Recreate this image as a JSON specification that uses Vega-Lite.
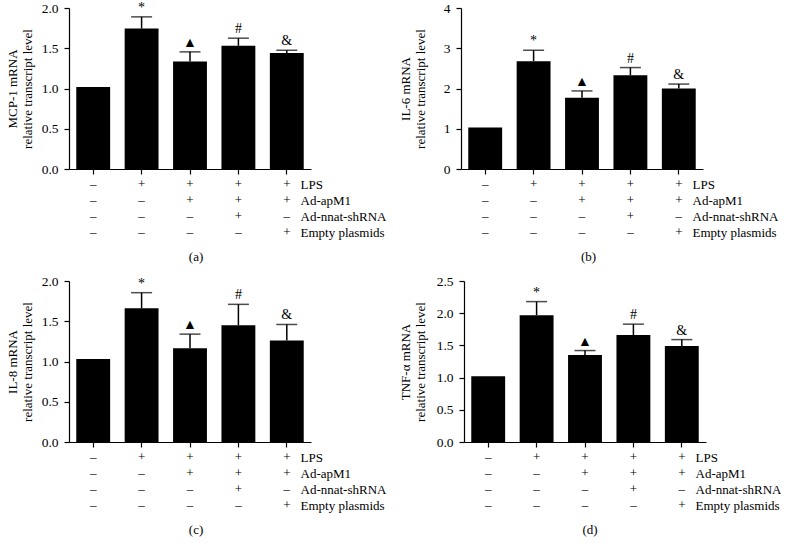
{
  "$schema": "https://vega.github.io/schema/vega-lite/v6.json",
  "padding": {"left": 6, "top": 0, "right": 0, "bottom": 0},
  "background": "white",
  "config": {
    "font": "Liberation Serif",
    "view": {"stroke": null},
    "axis": {"labelFont": "Liberation Serif", "titleFont": "Liberation Serif", "domainColor": "black", "tickColor": "black", "labelColor": "black", "titleColor": "black", "grid": false, "titleFontWeight": "normal", "domainWidth": 1.2, "tickWidth": 1.2},
    "title": {"font": "Liberation Serif", "fontWeight": "normal", "color": "black", "fontSize": 13}
  },
  "datasets": {
    "bars": [
      {"panel": "a", "g": "1", "value": 1.02, "upper": null, "sig": ""},
      {"panel": "a", "g": "2", "value": 1.745, "upper": 1.89, "sig": "*"},
      {"panel": "a", "g": "3", "value": 1.335, "upper": 1.455, "sig": "▲"},
      {"panel": "a", "g": "4", "value": 1.53, "upper": 1.625, "sig": "#"},
      {"panel": "a", "g": "5", "value": 1.44, "upper": 1.475, "sig": "&"},
      {"panel": "b", "g": "1", "value": 1.03, "upper": null, "sig": ""},
      {"panel": "b", "g": "2", "value": 2.68, "upper": 2.95, "sig": "*"},
      {"panel": "b", "g": "3", "value": 1.77, "upper": 1.94, "sig": "▲"},
      {"panel": "b", "g": "4", "value": 2.33, "upper": 2.52, "sig": "#"},
      {"panel": "b", "g": "5", "value": 2.0, "upper": 2.11, "sig": "&"},
      {"panel": "c", "g": "1", "value": 1.03, "upper": null, "sig": ""},
      {"panel": "c", "g": "2", "value": 1.66, "upper": 1.855, "sig": "*"},
      {"panel": "c", "g": "3", "value": 1.165, "upper": 1.34, "sig": "▲"},
      {"panel": "c", "g": "4", "value": 1.45, "upper": 1.71, "sig": "#"},
      {"panel": "c", "g": "5", "value": 1.26, "upper": 1.46, "sig": "&"},
      {"panel": "d", "g": "1", "value": 1.02, "upper": null, "sig": ""},
      {"panel": "d", "g": "2", "value": 1.97, "upper": 2.18, "sig": "*"},
      {"panel": "d", "g": "3", "value": 1.35, "upper": 1.42, "sig": "▲"},
      {"panel": "d", "g": "4", "value": 1.66, "upper": 1.83, "sig": "#"},
      {"panel": "d", "g": "5", "value": 1.49, "upper": 1.59, "sig": "&"}
    ],
    "table": [
      {"factor": "LPS", "g": "1", "sign": "–"},
      {"factor": "LPS", "g": "2", "sign": "+"},
      {"factor": "LPS", "g": "3", "sign": "+"},
      {"factor": "LPS", "g": "4", "sign": "+"},
      {"factor": "LPS", "g": "5", "sign": "+"},
      {"factor": "Ad-apM1", "g": "1", "sign": "–"},
      {"factor": "Ad-apM1", "g": "2", "sign": "–"},
      {"factor": "Ad-apM1", "g": "3", "sign": "+"},
      {"factor": "Ad-apM1", "g": "4", "sign": "+"},
      {"factor": "Ad-apM1", "g": "5", "sign": "+"},
      {"factor": "Ad-nnat-shRNA", "g": "1", "sign": "–"},
      {"factor": "Ad-nnat-shRNA", "g": "2", "sign": "–"},
      {"factor": "Ad-nnat-shRNA", "g": "3", "sign": "–"},
      {"factor": "Ad-nnat-shRNA", "g": "4", "sign": "+"},
      {"factor": "Ad-nnat-shRNA", "g": "5", "sign": "–"},
      {"factor": "Empty plasmids", "g": "1", "sign": "–"},
      {"factor": "Empty plasmids", "g": "2", "sign": "–"},
      {"factor": "Empty plasmids", "g": "3", "sign": "–"},
      {"factor": "Empty plasmids", "g": "4", "sign": "–"},
      {"factor": "Empty plasmids", "g": "5", "sign": "+"}
    ]
  },
  "spacing": 10,
  "vconcat": [
    {
      "spacing": 13,
      "hconcat": [
        {
          "title": {"text": "(a)", "orient": "bottom", "anchor": "middle", "frame": "bounds", "offset": 12},
          "spacing": 2,
          "vconcat": [
            {
              "width": 242, "height": 161,
              "data": {"name": "bars"},
              "transform": [{"filter": "datum.panel == 'a'"}],
              "encoding": {"x": {"field": "g", "type": "nominal", "scale": {"paddingInner": 0.3, "paddingOuter": 0.15}, "axis": {"title": null, "labels": false, "tickSize": 5}}},
              "layer": [
                {"mark": {"type": "bar", "color": "black"}, "encoding": {"y": {"field": "value", "type": "quantitative", "scale": {"domain": [0, 2], "nice": false}, "axis": {"title": ["MCP-1 mRNA", "relative transcript level"], "values": [0, 0.5, 1, 1.5, 2], "tickCount": 5, "format": ".1f", "labelOverlap": false, "tickSize": 5, "labelPadding": 6, "titlePadding": 7, "labelFontSize": 13.5, "titleFontSize": 13}}}},
                {"mark": {"type": "rule", "color": "black", "strokeWidth": 1.5}, "encoding": {"y": {"field": "value", "type": "quantitative"}, "y2": {"field": "upper"}}},
                {"mark": {"type": "tick", "color": "black", "orient": "horizontal", "size": 21, "thickness": 1.5}, "encoding": {"y": {"field": "upper", "type": "quantitative"}}},
                {"mark": {"type": "text", "baseline": "bottom", "dy": -2, "fontSize": 14, "color": "black"}, "encoding": {"y": {"field": "upper", "type": "quantitative"}, "text": {"field": "sig"}}}
              ]
            },
            {
              "width": 242, "height": 48,
              "data": {"name": "table"},
              "mark": {"type": "text", "fontSize": 13, "color": "black"},
              "encoding": {
                "x": {"field": "g", "type": "nominal", "scale": {"type": "point", "padding": 0.5}, "axis": null},
                "y": {"field": "factor", "type": "nominal", "sort": ["LPS", "Ad-apM1", "Ad-nnat-shRNA", "Empty plasmids"], "scale": {"type": "point", "padding": 0}, "axis": {"orient": "right", "title": null, "domain": false, "ticks": false, "labelPadding": -11, "labelFontSize": 13, "labelAlign": "left"}},
                "text": {"field": "sign"}
              }
            }
          ]
        },
        {
          "title": {"text": "(b)", "orient": "bottom", "anchor": "middle", "frame": "bounds", "offset": 12},
          "spacing": 2,
          "vconcat": [
            {
              "width": 242, "height": 161,
              "data": {"name": "bars"},
              "transform": [{"filter": "datum.panel == 'b'"}],
              "encoding": {"x": {"field": "g", "type": "nominal", "scale": {"paddingInner": 0.3, "paddingOuter": 0.15}, "axis": {"title": null, "labels": false, "tickSize": 5}}},
              "layer": [
                {"mark": {"type": "bar", "color": "black"}, "encoding": {"y": {"field": "value", "type": "quantitative", "scale": {"domain": [0, 4], "nice": false}, "axis": {"title": ["IL-6 mRNA", "relative transcript level"], "values": [0, 1, 2, 3, 4], "tickCount": 5, "format": "d", "labelOverlap": false, "tickSize": 5, "labelPadding": 6, "titlePadding": 16, "labelFontSize": 13.5, "titleFontSize": 13}}}},
                {"mark": {"type": "rule", "color": "black", "strokeWidth": 1.5}, "encoding": {"y": {"field": "value", "type": "quantitative"}, "y2": {"field": "upper"}}},
                {"mark": {"type": "tick", "color": "black", "orient": "horizontal", "size": 21, "thickness": 1.5}, "encoding": {"y": {"field": "upper", "type": "quantitative"}}},
                {"mark": {"type": "text", "baseline": "bottom", "dy": -2, "fontSize": 14, "color": "black"}, "encoding": {"y": {"field": "upper", "type": "quantitative"}, "text": {"field": "sig"}}}
              ]
            },
            {
              "width": 242, "height": 48,
              "data": {"name": "table"},
              "mark": {"type": "text", "fontSize": 13, "color": "black"},
              "encoding": {
                "x": {"field": "g", "type": "nominal", "scale": {"type": "point", "padding": 0.5}, "axis": null},
                "y": {"field": "factor", "type": "nominal", "sort": ["LPS", "Ad-apM1", "Ad-nnat-shRNA", "Empty plasmids"], "scale": {"type": "point", "padding": 0}, "axis": {"orient": "right", "title": null, "domain": false, "ticks": false, "labelPadding": -11, "labelFontSize": 13, "labelAlign": "left"}},
                "text": {"field": "sign"}
              }
            }
          ]
        }
      ]
    },
    {
      "spacing": 13,
      "hconcat": [
        {
          "title": {"text": "(c)", "orient": "bottom", "anchor": "middle", "frame": "bounds", "offset": 12},
          "spacing": 2,
          "vconcat": [
            {
              "width": 242, "height": 161,
              "data": {"name": "bars"},
              "transform": [{"filter": "datum.panel == 'c'"}],
              "encoding": {"x": {"field": "g", "type": "nominal", "scale": {"paddingInner": 0.3, "paddingOuter": 0.15}, "axis": {"title": null, "labels": false, "tickSize": 5}}},
              "layer": [
                {"mark": {"type": "bar", "color": "black"}, "encoding": {"y": {"field": "value", "type": "quantitative", "scale": {"domain": [0, 2], "nice": false}, "axis": {"title": ["IL-8 mRNA", "relative transcript level"], "values": [0, 0.5, 1, 1.5, 2], "tickCount": 5, "format": ".1f", "labelOverlap": false, "tickSize": 5, "labelPadding": 6, "titlePadding": 7, "labelFontSize": 13.5, "titleFontSize": 13}}}},
                {"mark": {"type": "rule", "color": "black", "strokeWidth": 1.5}, "encoding": {"y": {"field": "value", "type": "quantitative"}, "y2": {"field": "upper"}}},
                {"mark": {"type": "tick", "color": "black", "orient": "horizontal", "size": 21, "thickness": 1.5}, "encoding": {"y": {"field": "upper", "type": "quantitative"}}},
                {"mark": {"type": "text", "baseline": "bottom", "dy": -2, "fontSize": 14, "color": "black"}, "encoding": {"y": {"field": "upper", "type": "quantitative"}, "text": {"field": "sig"}}}
              ]
            },
            {
              "width": 242, "height": 48,
              "data": {"name": "table"},
              "mark": {"type": "text", "fontSize": 13, "color": "black"},
              "encoding": {
                "x": {"field": "g", "type": "nominal", "scale": {"type": "point", "padding": 0.5}, "axis": null},
                "y": {"field": "factor", "type": "nominal", "sort": ["LPS", "Ad-apM1", "Ad-nnat-shRNA", "Empty plasmids"], "scale": {"type": "point", "padding": 0}, "axis": {"orient": "right", "title": null, "domain": false, "ticks": false, "labelPadding": -11, "labelFontSize": 13, "labelAlign": "left"}},
                "text": {"field": "sign"}
              }
            }
          ]
        },
        {
          "title": {"text": "(d)", "orient": "bottom", "anchor": "middle", "frame": "bounds", "offset": 12},
          "spacing": 2,
          "vconcat": [
            {
              "width": 242, "height": 161,
              "data": {"name": "bars"},
              "transform": [{"filter": "datum.panel == 'd'"}],
              "encoding": {"x": {"field": "g", "type": "nominal", "scale": {"paddingInner": 0.3, "paddingOuter": 0.15}, "axis": {"title": null, "labels": false, "tickSize": 5}}},
              "layer": [
                {"mark": {"type": "bar", "color": "black"}, "encoding": {"y": {"field": "value", "type": "quantitative", "scale": {"domain": [0, 2.5], "nice": false}, "axis": {"title": ["TNF-α mRNA", "relative transcript level"], "values": [0, 0.5, 1, 1.5, 2, 2.5], "tickCount": 6, "format": ".1f", "labelOverlap": false, "tickSize": 5, "labelPadding": 6, "titlePadding": 9, "labelFontSize": 13.5, "titleFontSize": 13}}}},
                {"mark": {"type": "rule", "color": "black", "strokeWidth": 1.5}, "encoding": {"y": {"field": "value", "type": "quantitative"}, "y2": {"field": "upper"}}},
                {"mark": {"type": "tick", "color": "black", "orient": "horizontal", "size": 21, "thickness": 1.5}, "encoding": {"y": {"field": "upper", "type": "quantitative"}}},
                {"mark": {"type": "text", "baseline": "bottom", "dy": -2, "fontSize": 14, "color": "black"}, "encoding": {"y": {"field": "upper", "type": "quantitative"}, "text": {"field": "sig"}}}
              ]
            },
            {
              "width": 242, "height": 48,
              "data": {"name": "table"},
              "mark": {"type": "text", "fontSize": 13, "color": "black"},
              "encoding": {
                "x": {"field": "g", "type": "nominal", "scale": {"type": "point", "padding": 0.5}, "axis": null},
                "y": {"field": "factor", "type": "nominal", "sort": ["LPS", "Ad-apM1", "Ad-nnat-shRNA", "Empty plasmids"], "scale": {"type": "point", "padding": 0}, "axis": {"orient": "right", "title": null, "domain": false, "ticks": false, "labelPadding": -11, "labelFontSize": 13, "labelAlign": "left"}},
                "text": {"field": "sign"}
              }
            }
          ]
        }
      ]
    }
  ]
}
